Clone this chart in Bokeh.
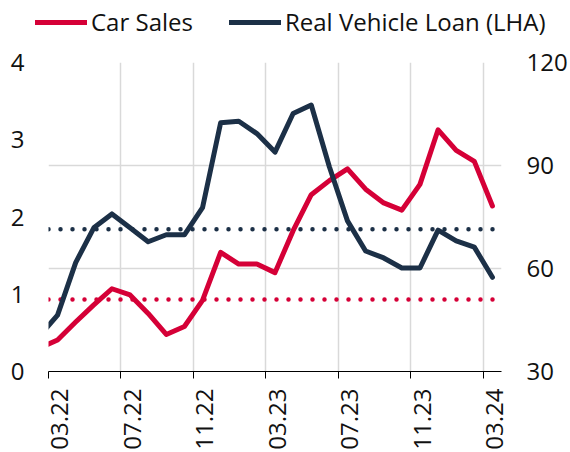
import numpy as np
from bokeh.plotting import figure
from bokeh.models import (Range1d, LinearAxis, FixedTicker, Legend, LegendItem,
                          Grid, ColumnDataSource, Span)
from bokeh.embed import file_html
from bokeh.resources import INLINE

# ---------------- data ----------------
months = ["02.22", "03.22", "04.22", "05.22", "06.22", "07.22", "08.22", "09.22",
          "10.22", "11.22", "12.22", "01.23", "02.23", "03.23", "04.23", "05.23",
          "06.23", "07.23", "08.23", "09.23", "10.23", "11.23", "12.23", "01.24",
          "02.24", "03.24"]
# Real Vehicle Loan (left-hand axis)
vehicle_loan = [0.46, 0.73, 1.41, 1.86, 2.04, 1.86, 1.68, 1.77, 1.77, 2.12, 3.22,
                3.24, 3.08, 2.84, 3.34, 3.45, 2.65, 1.95, 1.56, 1.47, 1.34, 1.34,
                1.83, 1.69, 1.61, 1.22]
# Car Sales (right-hand axis)
car_sales = [36.8, 39.2, 44.4, 49.4, 54.1, 52.3, 46.9, 40.8, 43.1, 50.7, 64.7,
             61.3, 61.3, 58.8, 71.0, 81.5, 85.6, 89.0, 83.1, 79.1, 77.0, 84.5,
             100.4, 94.4, 91.2, 78.2]
loan_avg = 1.84
sales_avg = 51.0
tick_labels = ["03.22", "07.22", "11.22", "03.23", "07.23", "11.23", "03.24"]
left_ticks = [0, 1, 2, 3, 4]
right_ticks = [30, 60, 90, 120]
series_names = ["Car Sales", "Real Vehicle Loan (LHA)"]

RED = "#d50037"
NAVY = "#1c3047"
GRID = "#d9d9d9"
TXT = "#111111"
FONT = "Open Sans"
FS = "24px"
LABEL_SHIFT = 0.63   # label offset (in months) to the right of its tick

# x positions: month index relative to 03.22, data plotted mid-month
base = months.index("03.22")
x_pos = [i - base + 0.5 for i in range(len(months))]
tick_pos = [months.index(t) - base for t in tick_labels]
x_end = len(months) - base

src = ColumnDataSource(dict(x=x_pos, loan=vehicle_loan, sales=car_sales))

# ---------------- main chart ----------------
p = figure(width=570, height=412, output_backend="svg", toolbar_location=None,
           x_range=Range1d(0, x_end), y_range=Range1d(left_ticks[0], left_ticks[-1]),
           min_border_left=48, min_border_right=68, min_border_top=22,
           min_border_bottom=79)
p.extra_y_ranges = {"right": Range1d(right_ticks[0], right_ticks[-1])}
p.extra_x_ranges = {"labels": Range1d(0 - LABEL_SHIFT, x_end - LABEL_SHIFT)}
p.outline_line_color = None
p.background_fill_color = "white"
p.border_fill_color = "white"

# grids
p.xgrid.ticker = FixedTicker(ticks=tick_pos)
p.xgrid.grid_line_color = GRID
p.xgrid.grid_line_width = 1.5
p.ygrid.visible = False
p.add_layout(Grid(dimension=1, ticker=FixedTicker(ticks=right_ticks),
                  y_range_name="right", grid_line_color=GRID, grid_line_width=1.5))

# average dotted lines
p.add_layout(Span(location=loan_avg, dimension="width", line_color=NAVY,
                  line_width=4.5, line_dash="0 12", line_cap="round", level="underlay"))
p.add_layout(Span(location=sales_avg, dimension="width", line_color=RED,
                  y_range_name="right", line_width=4.5, line_dash="0 12",
                  line_cap="round", level="underlay"))

p.line("x", "sales", source=src, y_range_name="right", line_color=RED,
       line_width=5, line_cap="round", line_join="round")
p.line("x", "loan", source=src, line_color=NAVY, line_width=5,
       line_cap="round", line_join="round")

# left axis
ly = p.yaxis[0]
ly.ticker = FixedTicker(ticks=left_ticks)
ly.axis_line_color = None
ly.major_tick_line_color = None
ly.major_tick_out = 0
ly.major_tick_in = 0
ly.minor_tick_line_color = None
ly.major_label_standoff = 24
ly.axis_label_standoff = 0
ly.major_label_text_font = FONT
ly.major_label_text_font_size = FS
ly.major_label_text_color = TXT

# right axis
ry = LinearAxis(y_range_name="right", ticker=FixedTicker(ticks=right_ticks))
ry.axis_line_color = None
ry.major_tick_line_color = None
ry.major_tick_out = 0
ry.major_tick_in = 0
ry.minor_tick_line_color = None
ry.major_label_standoff = 25
ry.axis_label_standoff = 0
ry.major_label_text_font = FONT
ry.major_label_text_font_size = FS
ry.major_label_text_color = TXT
p.add_layout(ry, "right")

# bottom axis: line + tick marks only
bx = p.xaxis[0]
bx.ticker = FixedTicker(ticks=tick_pos)
bx.axis_line_color = "black"
bx.axis_line_width = 1
bx.major_tick_line_color = "black"
bx.major_tick_out = 7
bx.major_tick_in = 0
bx.minor_tick_line_color = None
bx.major_label_overrides = {t: "" for t in tick_pos}
bx.major_label_text_font_size = "1px"
bx.major_label_standoff = 0
bx.axis_label_standoff = 0

# bottom labels (vertical), slightly right of their ticks
lx = LinearAxis(x_range_name="labels", ticker=FixedTicker(ticks=tick_pos))
lx.major_label_overrides = {t: lab for t, lab in zip(tick_pos, tick_labels)}
lx.axis_line_color = None
lx.major_tick_line_color = None
lx.major_tick_out = 0
lx.major_tick_in = 0
lx.minor_tick_line_color = None
lx.major_label_orientation = np.pi / 2
lx.major_label_standoff = 10
lx.axis_label_standoff = 0
lx.major_label_text_font = FONT
lx.major_label_text_font_size = FS
lx.major_label_text_color = TXT
p.add_layout(lx, "below")

# ---------------- legend strip (separate root, full-width frame) ----------------
pl = figure(width=570, height=40, output_backend="svg", toolbar_location=None,
            x_axis_location=None, y_axis_location=None, min_border=0,
            x_range=Range1d(0, x_end),
            y_range=Range1d(left_ticks[-1] + 100, left_ticks[-1] + 101))
pl.outline_line_color = None
pl.xgrid.visible = False
pl.ygrid.visible = False
pl.background_fill_color = "white"
pl.border_fill_color = "white"
# legend swatches use the series' own line styles (data lies outside this strip's range)
l1 = pl.line("x", "loan", source=src, line_color=RED, line_width=5, line_cap="round")
l2 = pl.line("x", "loan", source=src, line_color=NAVY, line_width=5, line_cap="round")

legend = Legend(items=[LegendItem(label=series_names[0], renderers=[l1]),
                       LegendItem(label=series_names[1], renderers=[l2])],
                orientation="horizontal", location=(35, 2))
legend.label_text_font = FONT
legend.label_text_font_size = FS
legend.label_text_color = TXT
legend.glyph_width = 52
legend.glyph_height = 20
legend.label_standoff = 4
legend.spacing = 36
legend.padding = 0
legend.margin = 0
legend.border_line_color = None
legend.background_fill_alpha = 0
pl.add_layout(legend)

open("out.html", "w").write(file_html([pl, p], INLINE))
